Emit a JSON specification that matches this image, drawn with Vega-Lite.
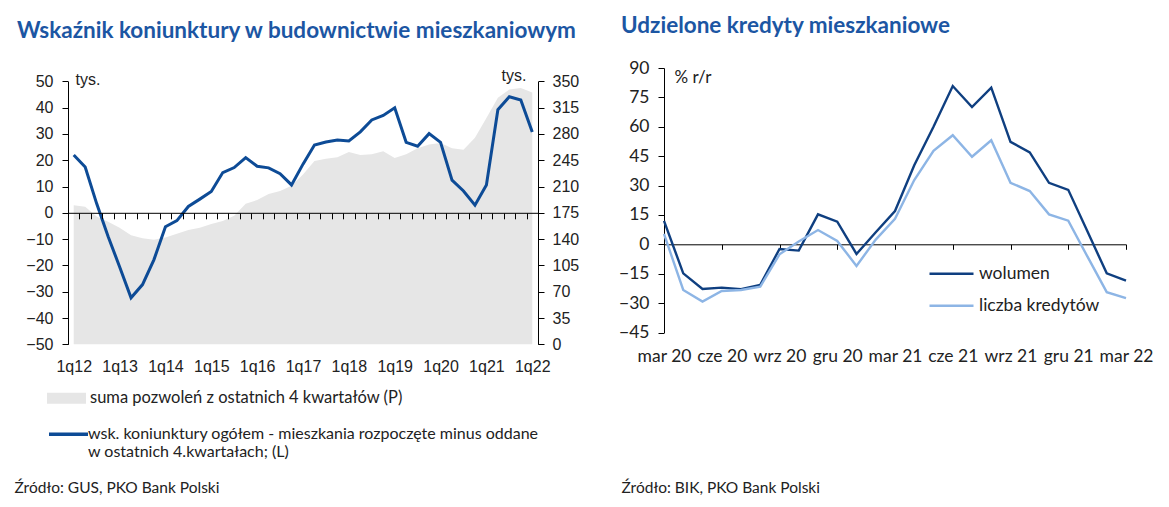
{
  "$schema": "https://vega.github.io/schema/vega-lite/v6.json",
  "background": "white",
  "padding": {"left": 14, "top": 14, "right": 5, "bottom": 5},
  "config": {
    "view": {"stroke": null},
    "axis": {"grid": false, "domainColor": "#000000", "tickColor": "#000000", "labelColor": "#222222", "labelFont": "Liberation Sans", "labelFontSize": 16, "titleFont": "Lato", "titleFontWeight": "normal", "titleFontSize": 15.5, "titleColor": "#222222"},
    "legend": {"labelFont": "Lato", "labelFontSize": 16, "labelColor": "#222222"},
    "title": {"font": "Lato", "fontWeight": "bold", "fontSize": 22.5, "color": "#1c56a3", "anchor": "start", "frame": "group"}
  },
  "spacing": 39,
  "hconcat": [
    {
      "width": 470,
      "height": 276.3,
      "title": {"text": "Wskaźnik koniunktury w budownictwie mieszkaniowym", "dx": -51, "offset": 25},
      "data": {"values": [
        {"q": "1q12", "L": 22.0, "P": 185}, {"q": "2q12", "L": 17.4, "P": 183}, {"q": "3q12", "L": 3.5, "P": 170}, {"q": "4q12", "L": -9.0, "P": 163},
        {"q": "1q13", "L": -20.5, "P": 155}, {"q": "2q13", "L": -32.3, "P": 145}, {"q": "3q13", "L": -27.3, "P": 141}, {"q": "4q13", "L": -17.8, "P": 139},
        {"q": "1q14", "L": -5.3, "P": 142}, {"q": "2q14", "L": -3.0, "P": 147}, {"q": "3q14", "L": 2.4, "P": 152}, {"q": "4q14", "L": 5.2, "P": 155},
        {"q": "1q15", "L": 8.1, "P": 160}, {"q": "2q15", "L": 15.3, "P": 164}, {"q": "3q15", "L": 17.2, "P": 171}, {"q": "4q15", "L": 21.0, "P": 187},
        {"q": "1q16", "L": 17.7, "P": 192}, {"q": "2q16", "L": 17.1, "P": 200}, {"q": "3q16", "L": 14.9, "P": 204}, {"q": "4q16", "L": 10.6, "P": 211},
        {"q": "1q17", "L": 18.5, "P": 226}, {"q": "2q17", "L": 25.8, "P": 244}, {"q": "3q17", "L": 26.9, "P": 247}, {"q": "4q17", "L": 27.7, "P": 249},
        {"q": "1q18", "L": 27.3, "P": 256}, {"q": "2q18", "L": 30.8, "P": 252}, {"q": "3q18", "L": 35.3, "P": 253}, {"q": "4q18", "L": 37.0, "P": 257},
        {"q": "1q19", "L": 39.9, "P": 248}, {"q": "2q19", "L": 26.8, "P": 253}, {"q": "3q19", "L": 25.3, "P": 261}, {"q": "4q19", "L": 30.1, "P": 266},
        {"q": "1q20", "L": 26.8, "P": 268}, {"q": "2q20", "L": 12.4, "P": 261}, {"q": "3q20", "L": 8.3, "P": 259}, {"q": "4q20", "L": 2.9, "P": 275},
        {"q": "1q21", "L": 10.6, "P": 301}, {"q": "2q21", "L": 39.2, "P": 328}, {"q": "3q21", "L": 44.1, "P": 339}, {"q": "4q21", "L": 42.9, "P": 341},
        {"q": "1q22", "L": 30.7, "P": 335}
      ]},
      "layer": [
        {
          "mark": {"type": "area"},
          "encoding": {
            "x": {"field": "q", "type": "ordinal", "sort": null, "bandPosition": 0.5,
                  "scale": {"type": "band", "paddingInner": 0, "paddingOuter": 0},
                  "axis": {"orient": "bottom", "offset": -131.5, "zindex": 1, "tickBand": "extent", "tickSize": 6, "labelAngle": 0, "labelOverlap": false,
                           "labelPadding": 140, "labelBaseline": "top",
                           "labelExpr": "slice(datum.label,0,2)=='1q' ? datum.label : ''",
                           "title": "Źródło: GUS, PKO Bank Polski", "titleAnchor": "start", "titleAlign": "left", "titleBaseline": "alphabetic", "titleX": -54, "titleY": 280}},
            "y": {"field": "P", "type": "quantitative", "scale": {"domain": [0, 350], "range": [276.3, 13.3]},
                  "axis": {"orient": "right", "values": [0, 35, 70, 105, 140, 175, 210, 245, 280, 315, 350], "tickSize": 6, "labelPadding": 8,
                           "title": "tys.", "titleAngle": 0, "titleAlign": "right", "titleBaseline": "alphabetic", "titleX": -12, "titleY": 12.3, "titleFont": "Liberation Sans", "titleFontSize": 16}},
            "fill": {"datum": "suma pozwoleń  z ostatnich 4 kwartałów (P)", "scale": {"range": ["#e6e6e6"]},
                     "legend": {"orient": "none", "legendX": -21, "legendY": 310.8, "title": null, "symbolType": "M-1,-0.28H1V0.28H-1Z", "symbolSize": 1521, "symbolStrokeWidth": 0, "labelLimit": 600, "labelFontSize": 16.5}}
          }
        },
        {
          "mark": {"type": "line", "strokeWidth": 3},
          "encoding": {
            "x": {"field": "q", "type": "ordinal", "sort": null, "bandPosition": 0.5},
            "y": {"field": "L", "type": "quantitative", "scale": {"domain": [-50, 50], "range": [276.3, 13.3]},
                  "axis": {"orient": "left", "values": [-50, -40, -30, -20, -10, 0, 10, 20, 30, 40, 50], "tickSize": 6, "labelPadding": 9,
                           "title": "tys.", "titleAngle": 0, "titleAlign": "left", "titleBaseline": "alphabetic", "titleX": 7, "titleY": 16.3, "titleFont": "Liberation Sans", "titleFontSize": 16}},
            "stroke": {"datum": "wsk. koniunktury ogółem - mieszkania rozpoczęte minus oddane", "scale": {"range": ["#0d4b96"]},
                       "legend": {"orient": "none", "legendX": -21, "legendY": 344.8, "title": null, "symbolType": "stroke", "symbolSize": 1521, "symbolStrokeWidth": 3.5, "labelLimit": 600, "labelOffset": -2,
                                  "labelExpr": "['wsk. koniunktury ogółem - mieszkania rozpoczęte minus oddane', 'w ostatnich 4.kwartałach; (L)']"}}
          }
        }
      ],
      "resolve": {"scale": {"y": "independent"}}
    },
    {
      "width": 462,
      "height": 264.5,
      "title": {"text": "Udzielone kredyty mieszkaniowe", "dx": -43, "offset": 22},
      "data": {"values": [
        {"m": "mar 20", "s": "wolumen", "v": 12}, {"m": "kwi 20", "s": "wolumen", "v": -14.8}, {"m": "maj 20", "s": "wolumen", "v": -22.8},
        {"m": "cze 20", "s": "wolumen", "v": -22.1}, {"m": "lip 20", "s": "wolumen", "v": -22.9}, {"m": "sie 20", "s": "wolumen", "v": -20.7},
        {"m": "wrz 20", "s": "wolumen", "v": -2.4}, {"m": "paź 20", "s": "wolumen", "v": -3.2}, {"m": "lis 20", "s": "wolumen", "v": 15.3},
        {"m": "gru 20", "s": "wolumen", "v": 11.6}, {"m": "sty 21", "s": "wolumen", "v": -4.9}, {"m": "lut 21", "s": "wolumen", "v": 6.2},
        {"m": "mar 21", "s": "wolumen", "v": 17}, {"m": "kwi 21", "s": "wolumen", "v": 40.4}, {"m": "maj 21", "s": "wolumen", "v": 60},
        {"m": "cze 21", "s": "wolumen", "v": 80.8}, {"m": "lip 21", "s": "wolumen", "v": 70.1}, {"m": "sie 21", "s": "wolumen", "v": 80},
        {"m": "wrz 21", "s": "wolumen", "v": 52.3}, {"m": "paź 21", "s": "wolumen", "v": 46.9}, {"m": "lis 21", "s": "wolumen", "v": 31.4},
        {"m": "gru 21", "s": "wolumen", "v": 27.8}, {"m": "sty 22", "s": "wolumen", "v": 6.5}, {"m": "lut 22", "s": "wolumen", "v": -14.8},
        {"m": "mar 22", "s": "wolumen", "v": -18.5},
        {"m": "mar 20", "s": "liczba kredytów", "v": 5.3}, {"m": "kwi 20", "s": "liczba kredytów", "v": -23.3}, {"m": "maj 20", "s": "liczba kredytów", "v": -29.2},
        {"m": "cze 20", "s": "liczba kredytów", "v": -23.8}, {"m": "lip 20", "s": "liczba kredytów", "v": -23.3}, {"m": "sie 20", "s": "liczba kredytów", "v": -21.6},
        {"m": "wrz 20", "s": "liczba kredytów", "v": -5.1}, {"m": "paź 20", "s": "liczba kredytów", "v": 1.5}, {"m": "lis 20", "s": "liczba kredytów", "v": 7.3},
        {"m": "gru 20", "s": "liczba kredytów", "v": 1.7}, {"m": "sty 21", "s": "liczba kredytów", "v": -11}, {"m": "lut 21", "s": "liczba kredytów", "v": 2.4},
        {"m": "mar 21", "s": "liczba kredytów", "v": 13}, {"m": "kwi 21", "s": "liczba kredytów", "v": 32.8}, {"m": "maj 21", "s": "liczba kredytów", "v": 47.7},
        {"m": "cze 21", "s": "liczba kredytów", "v": 55.7}, {"m": "lip 21", "s": "liczba kredytów", "v": 44.7}, {"m": "sie 21", "s": "liczba kredytów", "v": 53.1},
        {"m": "wrz 21", "s": "liczba kredytów", "v": 31.4}, {"m": "paź 21", "s": "liczba kredytów", "v": 27.2}, {"m": "lis 21", "s": "liczba kredytów", "v": 15.3},
        {"m": "gru 21", "s": "liczba kredytów", "v": 12.1}, {"m": "sty 22", "s": "liczba kredytów", "v": -6.3}, {"m": "lut 22", "s": "liczba kredytów", "v": -24.4},
        {"m": "mar 22", "s": "liczba kredytów", "v": -27.5}
      ]},
      "mark": {"type": "line", "strokeWidth": 2.4},
      "encoding": {
        "x": {"field": "m", "type": "ordinal", "sort": null, "scale": {"type": "point", "padding": 0},
              "axis": {"values": ["mar 20", "cze 20", "wrz 20", "gru 20", "mar 21", "cze 21", "wrz 21", "gru 21", "mar 22"],
                       "offset": -88.2, "tickSize": 5, "labelAngle": 0, "labelOverlap": false, "labelPadding": 98, "labelBaseline": "top", "labelFont": "Lato", "labelFontSize": 17.5,
                       "title": "Źródło: BIK, PKO Bank Polski", "titleAnchor": "start", "titleAlign": "left", "titleBaseline": "alphabetic", "titleX": -43, "titleY": 248}},
        "y": {"field": "v", "type": "quantitative", "scale": {"domain": [-45, 90]},
              "axis": {"values": [-45, -30, -15, 0, 15, 30, 45, 60, 75, 90], "tickSize": 6, "labelPadding": 9, "labelFont": "Lato", "labelFontSize": 17.5,
                       "title": "% r/r", "titleAngle": 0, "titleAlign": "left", "titleBaseline": "alphabetic", "titleX": 10, "titleY": 14, "titleFontSize": 17}},
        "color": {"field": "s", "type": "nominal", "sort": ["wolumen", "liczba kredytów"],
                  "scale": {"domain": ["wolumen", "liczba kredytów"], "range": ["#0f3f80", "#8db5e5"]},
                  "legend": {"orient": "none", "legendX": 860, "legendY": 182.3, "title": null, "symbolType": "stroke", "symbolSize": 1936, "symbolStrokeWidth": 2.5, "labelFontSize": 17.5, "rowPadding": -14, "labelOffset": 4}}
      }
    }
  ]
}
